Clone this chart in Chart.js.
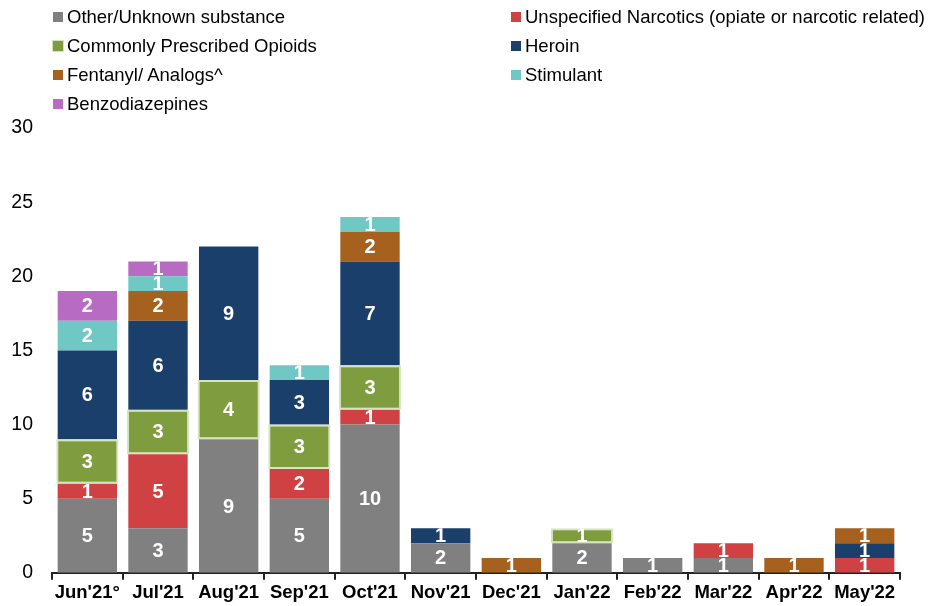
<!DOCTYPE html>
<html>
<head>
<meta charset="utf-8">
<script src="https://cdn.jsdelivr.net/npm/chart.js@4/dist/chart.umd.min.js"></script>
<style>
  html, body { margin: 0; padding: 0; background: #fff; }
  #wrap { position: relative; width: 930px; height: 606px; }
  #legend { position: absolute; left: 0; top: 0; width: 930px; height: 120px; font-family: "Liberation Sans", Arial, sans-serif; font-size: 18.5px; color: #000; }
  .li { position: absolute; height: 20px; line-height: 20px; white-space: nowrap; }
  .sw { position: absolute; left: 0; top: 5px; width: 10px; height: 10px; }
  .tx { position: absolute; left: 14px; top: 0; }
</style>
</head>
<body>
<div id="wrap">
  <canvas id="c" width="930" height="606"></canvas>
  <div id="legend"></div>
</div>
<script>
const categories = ["Jun'21°", "Jul'21", "Aug'21", "Sep'21", "Oct'21", "Nov'21", "Dec'21", "Jan'22", "Feb'22", "Mar'22", "Apr'22", "May'22"];
const otherUnknown   = [5, 3, 9, 5, 10, 2, 0, 2, 1, 1, 0, 0];
const unspecified    = [1, 5, 0, 2, 1, 0, 0, 0, 0, 1, 0, 1];
const prescribed     = [3, 3, 4, 3, 3, 0, 0, 1, 0, 0, 0, 0];
const heroin         = [6, 6, 9, 3, 7, 1, 0, 0, 0, 0, 0, 1];
const fentanyl       = [0, 2, 0, 0, 2, 0, 1, 0, 0, 0, 1, 1];
const stimulant      = [2, 1, 0, 1, 1, 0, 0, 0, 0, 0, 0, 0];
const benzo          = [2, 1, 0, 0, 0, 0, 0, 0, 0, 0, 0, 0];
const seriesNames = ["Other/Unknown substance", "Unspecified Narcotics (opiate or narcotic related)", "Commonly Prescribed Opioids", "Heroin", "Fentanyl/ Analogs^", "Stimulant", "Benzodiazepines"];
const yTicks = [0, 5, 10, 15, 20, 25, 30];

const colors = ["#808080", "#D04143", "#7F9C3F", "#1B3F6B", "#A5611D", "#6FC8C3", "#B86BC2"];
const seriesData = [otherUnknown, unspecified, prescribed, heroin, fentanyl, stimulant, benzo];

const datasets = seriesData.map((d, i) => ({
  label: seriesNames[i],
  data: d,
  backgroundColor: colors[i],
  borderWidth: i === 2 ? 2 : 0,
  borderColor: i === 2 ? "rgba(205,225,180,0.85)" : "transparent",
  borderSkipped: false,
  barPercentage: i === 2 ? 0.88 : 0.84,
  categoryPercentage: 1.0
}));

// HTML legend (two columns, row-major)
const leg = document.getElementById('legend');
seriesNames.forEach((n, i) => {
  const col = i % 2, row = Math.floor(i / 2);
  const el = document.createElement('div');
  el.className = 'li';
  el.style.left = (col === 0 ? 53 : 511) + 'px';
  el.style.top = (7 + row * 29) + 'px';
  const sw = document.createElement('div');
  sw.className = 'sw';
  sw.style.background = colors[i];
  if (i === 2) { sw.style.boxShadow = '0 0 0 1px rgba(205,225,180,0.9)'; }
  const tx = document.createElement('span');
  tx.className = 'tx';
  tx.textContent = n;
  el.appendChild(sw); el.appendChild(tx);
  leg.appendChild(el);
});

const labelPlugin = {
  id: 'segLabels',
  afterDatasetsDraw(chart) {
    const ctx = chart.ctx;
    chart.data.datasets.forEach((ds, di) => {
      const meta = chart.getDatasetMeta(di);
      meta.data.forEach((bar, idx) => {
        const v = ds.data[idx];
        if (!v) return;
        const p = bar.getProps(['x', 'y', 'base', 'width'], true);
        const top = Math.min(p.y, p.base), bot = Math.max(p.y, p.base);
        ctx.save();
        ctx.beginPath();
        ctx.rect(p.x - p.width / 2, top, p.width, bot - top);
        ctx.clip();
        ctx.fillStyle = '#fff';
        ctx.font = 'bold 20px "Liberation Sans", Arial, sans-serif';
        ctx.textAlign = 'center';
        ctx.textBaseline = 'middle';
        ctx.fillText(String(v), p.x, (top + bot) / 2 + 1);
        ctx.restore();
      });
    });
  }
};

new Chart(document.getElementById('c'), {
  type: 'bar',
  data: { labels: categories, datasets },
  options: {
    responsive: false,
    animation: false,
    layout: { padding: { top: 128, left: 12, right: 30, bottom: 0 } },
    plugins: { legend: { display: false }, tooltip: { enabled: false } },
    scales: {
      x: {
        stacked: true,
        afterFit(axis) { axis.paddingLeft = 0; axis.paddingRight = 0; },
        grid: { display: true, drawOnChartArea: false, drawTicks: true, tickLength: 7, color: '#222', lineWidth: 2, offset: true },
        border: { display: true, color: '#222', width: 2 },
        ticks: { color: '#000', padding: 2, font: { family: '"Liberation Sans", Arial, sans-serif', size: 18.5, weight: 'bold' }, maxRotation: 0, autoSkip: false }
      },
      y: {
        stacked: true,
        min: 0, max: 30,
        afterBuildTicks(axis) { axis.ticks = yTicks.map(v => ({ value: v })); },
        afterFit(axis) { axis.width = 40; },
        grid: { display: false, drawTicks: false, tickLength: 0 },
        border: { display: false },
        ticks: { color: '#000', padding: 19, font: { family: '"Liberation Sans", Arial, sans-serif', size: 19.5 } }
      }
    }
  },
  plugins: [labelPlugin]
});
</script>
</body>
</html>
